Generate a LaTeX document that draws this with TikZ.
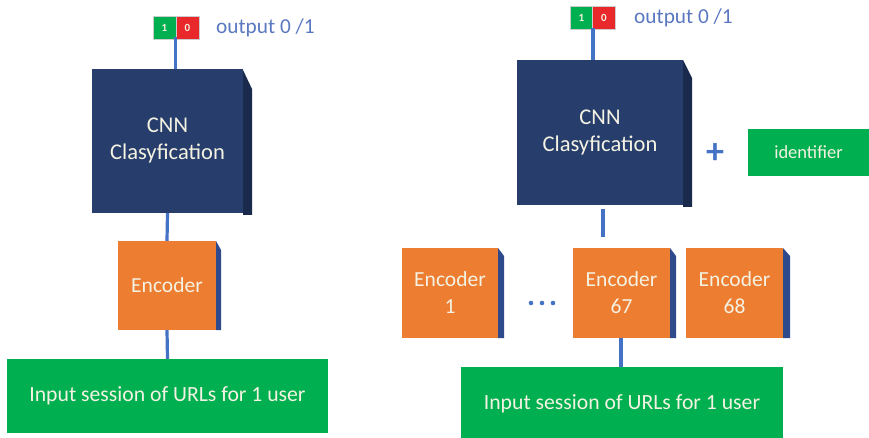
\documentclass[tikz,border=0pt]{standalone}
\usepackage{fontspec}
\setmainfont{Carlito}
\usetikzlibrary{arrows.meta}
\definecolor{navy}{HTML}{273E6C}
\definecolor{navyside}{HTML}{1A2A4C}
\definecolor{orng}{HTML}{ED7D31}
\definecolor{encside}{HTML}{2E4A8C}
\definecolor{grn}{HTML}{00B050}
\definecolor{redb}{HTML}{E8282A}
\definecolor{lnblue}{HTML}{4472C4}
\definecolor{txtblue}{HTML}{5A78C0}
\definecolor{lighttxt}{HTML}{F4F2E2}
\tikzset{
  cnnbox/.style={fill=navy, draw=none, minimum width=151pt, minimum height=144pt, inner sep=0pt, align=center, text=lighttxt, font=\fontsize{22.5}{27}\selectfont},
  encbox/.style={fill=orng, draw=none, inner sep=0pt, align=center, text=lighttxt, font=\fontsize{21.5}{27}\selectfont},
  inbox/.style={fill=grn, draw=none, inner sep=0pt, text=lighttxt, font=\fontsize{21.7}{26}\selectfont},
  bitbox/.style={draw=white!80!black, line width=0.6pt, minimum width=23pt, minimum height=23pt, inner sep=0pt, text=lighttxt, font=\bfseries\fontsize{11}{12}\selectfont},
  outlbl/.style={text=txtblue, font=\fontsize{21.3}{24}\selectfont, anchor=west, inner sep=0pt},
  conn/.style={draw=lnblue, line width=3.2pt},
  dot/.style={fill=lnblue, draw=none},
}
\begin{document}
\begin{tikzpicture}[x=1pt,y=-1pt]
\useasboundingbox (0,0) rectangle (869,438);
% ---------------- Left ----------------
\fill[navyside] (243,70) -- (252,89) -- (252,215) -- (243,215) -- cycle;
\node[cnnbox] (cnnL) at (167.5,141) {CNN\\Clasyfication};
\fill[encside] (216,241) -- (221,250) -- (221,330) -- (216,330) -- cycle;
\node[encbox, minimum width=98pt, minimum height=89pt] (encL) at (167,285.5) {Encoder};
\node[inbox, minimum width=321pt, minimum height=74pt] (inL) at (167.5,396) {Input session of URLs for 1 user};
\node[bitbox, fill=grn] (oneL) at (164.5,27.5) {1};
\node[bitbox, fill=redb] (zeroL) at (187.5,27.5) {0};
\node[outlbl] (outL) at (216,28) {output 0 /1};
\coordinate (bitsL) at (175.5,39);
\draw[conn] (cnnL.north -| bitsL) -- ([yshift=1.5pt]bitsL);
\draw[conn] (cnnL.south) -- (encL.north);
\draw[conn] (encL.south) -- (inL.north);
% ---------------- Right ----------------
\fill[navyside] (683,60) -- (692,78) -- (692,207) -- (683,207) -- cycle;
\node[cnnbox, minimum width=166pt, minimum height=145pt] (cnnR) at (600,132.5) {CNN\\Clasyfication};
\node[text=lnblue, font=\bfseries\fontsize{36}{36}\selectfont, inner sep=0pt] (plus) at (715,154) {+};
\node[fill=grn, minimum width=121pt, minimum height=47pt, inner sep=0pt, text=lighttxt, font=\fontsize{18.5}{20}\selectfont] (ident) at (808.5,152.5) {identifier};
\fill[encside] (498,248) -- (504,256) -- (504,338) -- (498,338) -- cycle;
\node[encbox, minimum width=96pt, minimum height=90pt] (enc1) at (450,293) {Encoder\\1};
\node[inner sep=0pt, minimum width=26pt, minimum height=6pt] (dots) at (542,303) {};
\fill[dot] (dots.west) ++(2.2,0) circle (2.3pt);
\fill[dot] (dots.center) circle (2.3pt);
\fill[dot] (dots.east) ++(-2.2,0) circle (2.3pt);
\fill[encside] (670,248) -- (676,256) -- (676,338) -- (670,338) -- cycle;
\node[encbox, minimum width=97pt, minimum height=90pt] (enc67) at (621.5,293) {Encoder\\67};
\fill[encside] (783,248) -- (790,256) -- (790,338) -- (783,338) -- cycle;
\node[encbox, minimum width=97pt, minimum height=90pt] (enc68) at (734.5,293) {Encoder\\68};
\node[inbox, minimum width=322pt, minimum height=74pt] (inR) at (622,404) {Input session of URLs for 1 user};
\node[bitbox, fill=grn] (oneR) at (581.5,18) {1};
\node[bitbox, fill=redb] (zeroR) at (604,18) {0};
\node[outlbl] (outR) at (634,18) {output 0 /1};
\coordinate (bitsR) at (593,29.5);
\draw[conn] (cnnR.north -| bitsR) -- ([yshift=1.5pt]bitsR);
\coordinate (linkR) at (603,0);
\draw[conn, shorten <=4pt, shorten >=11pt] (cnnR.south -| linkR) -- (enc67.north -| linkR);
\coordinate (linkRb) at (621,0);
\draw[conn] (enc67.south -| linkRb) -- (inR.north -| linkRb);
\end{tikzpicture}
\end{document}
